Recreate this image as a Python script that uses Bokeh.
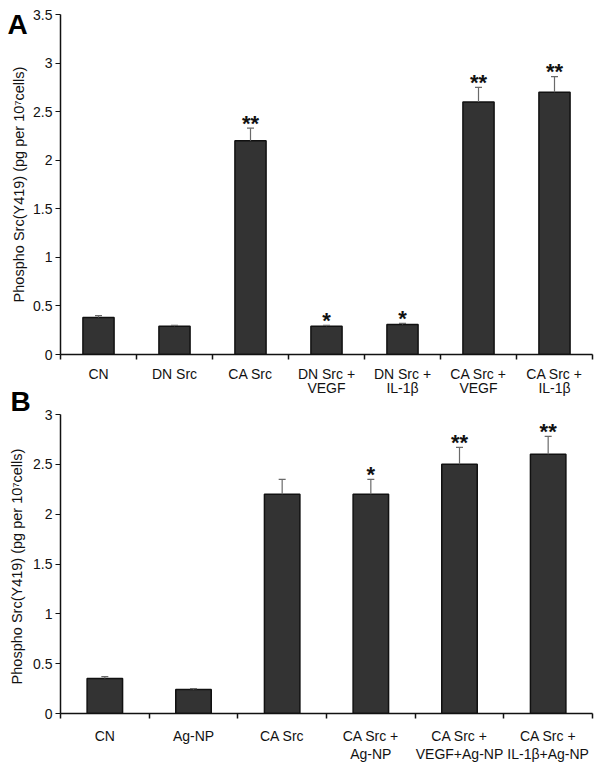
import math
from bokeh.plotting import figure
from bokeh.layouts import column, row
from bokeh.models import (Range1d, FixedTicker, Whisker, TeeHead, ColumnDataSource,
                          NumeralTickFormatter)
from bokeh.core.properties import value
from bokeh.embed import file_html
from bokeh.resources import INLINE

# ---------------- data ----------------
cats_a = ["CN", "DN Src", "CA Src", "DN Src +\nVEGF", "DN Src +\nIL-1β",
          "CA Src +\nVEGF", "CA Src +\nIL-1β"]
vals_a = [0.38, 0.29, 2.20, 0.29, 0.31, 2.60, 2.70]
errs_a = [0.02, 0.01, 0.13, 0.01, 0.01, 0.15, 0.16]
sig_a = ["", "", "**", "*", "*", "**", "**"]
yticks_a = [0, 0.5, 1, 1.5, 2, 2.5, 3, 3.5]

cats_b = ["CN", "Ag-NP", "CA Src", "CA Src +\nAg-NP", "CA Src +\nVEGF+Ag-NP",
          "CA Src +\nIL-1β+Ag-NP"]
vals_b = [0.35, 0.24, 2.20, 2.20, 2.50, 2.60]
errs_b = [0.02, 0.01, 0.15, 0.15, 0.17, 0.18]
sig_b = ["", "", "", "*", "**", "**"]
yticks_b = [0, 0.5, 1, 1.5, 2, 2.5, 3]

panel_letters = ["A", "B"]
y_label = "Phospho Src(Y419) (pg per 10\u2077cells)"
FONT = "Liberation Sans"
LEFT_W = 30


def make_panel(cats, vals, errs, sig, yticks, height, b_top, b_bottom,
               b_left, bar_width, label_standoff, label_lh):
    n = len(cats)
    xs = [i + 0.5 for i in range(n)]
    tops = [v + e for v, e in zip(vals, errs)]
    src = ColumnDataSource(dict(x=xs, v=vals, top=tops, sig=sig))

    p = figure(width=600 - LEFT_W, height=height, output_backend="svg",
               toolbar_location=None,
               x_range=Range1d(0, n), y_range=Range1d(0, yticks[-1]),
               min_border_left=b_left, min_border_right=8,
               min_border_top=b_top, min_border_bottom=b_bottom)
    p.outline_line_color = None
    p.xgrid.visible = False
    p.ygrid.visible = False
    p.background_fill_color = "white"
    p.border_fill_color = "white"

    p.vbar(x="x", top="v", bottom=0, width=bar_width, source=src,
           fill_color="#333333", line_color="#111111", line_width=1.5)

    wh = Whisker(base="x", lower="v", upper="top", source=src, dimension="height",
                 line_color="#6a6a6a", line_width=1.2,
                 upper_head=TeeHead(size=7, line_color="#6a6a6a", line_width=1.2),
                 lower_head=None, level="glyph")
    p.add_layout(wh)

    p.text(x="x", y="top", text="sig", source=src, text_align="center",
           text_baseline="alphabetic", y_offset=-5, text_font=value(FONT),
           text_font_style="bold", text_font_size="22px", text_color="#111111")

    # x axis
    xa = p.xaxis[0]
    xa.ticker = FixedTicker(ticks=xs, minor_ticks=list(range(n + 1)))
    xa.major_label_overrides = {x: c for x, c in zip(xs, cats)}
    xa.major_tick_out = 0
    xa.major_tick_in = 0
    xa.minor_tick_out = 5
    xa.minor_tick_in = 0
    xa.minor_tick_line_color = "#111111"
    xa.minor_tick_line_width = 1.5
    xa.axis_line_color = "#111111"
    xa.axis_line_width = 1.5
    xa.major_label_standoff = label_standoff
    xa.major_label_text_font = FONT
    xa.major_label_text_font_size = "14px"
    xa.major_label_text_line_height = label_lh
    xa.major_label_text_color = "#111111"

    # y axis (its title is drawn in the narrow left strip, next to the panel letter)
    ya = p.yaxis[0]
    ya.ticker = FixedTicker(ticks=yticks)
    ya.formatter = NumeralTickFormatter(format="0.[0]")
    ya.major_tick_out = 5
    ya.major_tick_in = 0
    ya.minor_tick_line_color = None
    ya.major_tick_line_color = "#111111"
    ya.major_tick_line_width = 1.2
    ya.axis_line_color = "#111111"
    ya.axis_line_width = 1.5
    ya.major_label_standoff = 3
    ya.major_label_text_font = FONT
    ya.major_label_text_font_size = "14px"
    ya.major_label_text_color = "#111111"
    return p


pa = make_panel(cats_a, vals_a, errs_a, sig_a, yticks_a, height=399,
                b_top=14, b_bottom=45, b_left=60 - LEFT_W, bar_width=0.41,
                label_standoff=6, label_lh=0.93)
pb = make_panel(cats_b, vals_b, errs_b, sig_b, yticks_b, height=377,
                b_top=15, b_bottom=63, b_left=59 - LEFT_W, bar_width=0.40,
                label_standoff=9, label_lh=1.13)

# narrow strip on the left (pixel coordinates, y downwards) holding the panel
# letters and the rotated y-axis titles
strip = figure(width=LEFT_W, height=776, output_backend="svg", toolbar_location=None,
               x_range=Range1d(0, LEFT_W), y_range=Range1d(776, 0),
               x_axis_type=None, y_axis_type=None,
               min_border_left=0, min_border_right=0, min_border_top=0,
               min_border_bottom=0)
strip.outline_line_color = None
strip.xgrid.visible = False
strip.ygrid.visible = False
strip.background_fill_color = "white"
strip.border_fill_color = "white"

strip.text(x=[7, 10], y=[24, 401], text=panel_letters, text_align="left",
           text_baseline="alphabetic", text_font=value(FONT), text_font_style="bold",
           text_font_size="28px", text_color="black")
strip.text(x=[18, 16.5], y=[184, 566], text=[y_label, y_label], angle=math.pi / 2,
           text_align="center", text_baseline="middle", text_font=value(FONT),
           text_font_size="14.5px", text_color="#111111")

layout = row(strip, column(pa, pb, spacing=0), spacing=0)
open("out.html", "w").write(file_html(layout, INLINE))
